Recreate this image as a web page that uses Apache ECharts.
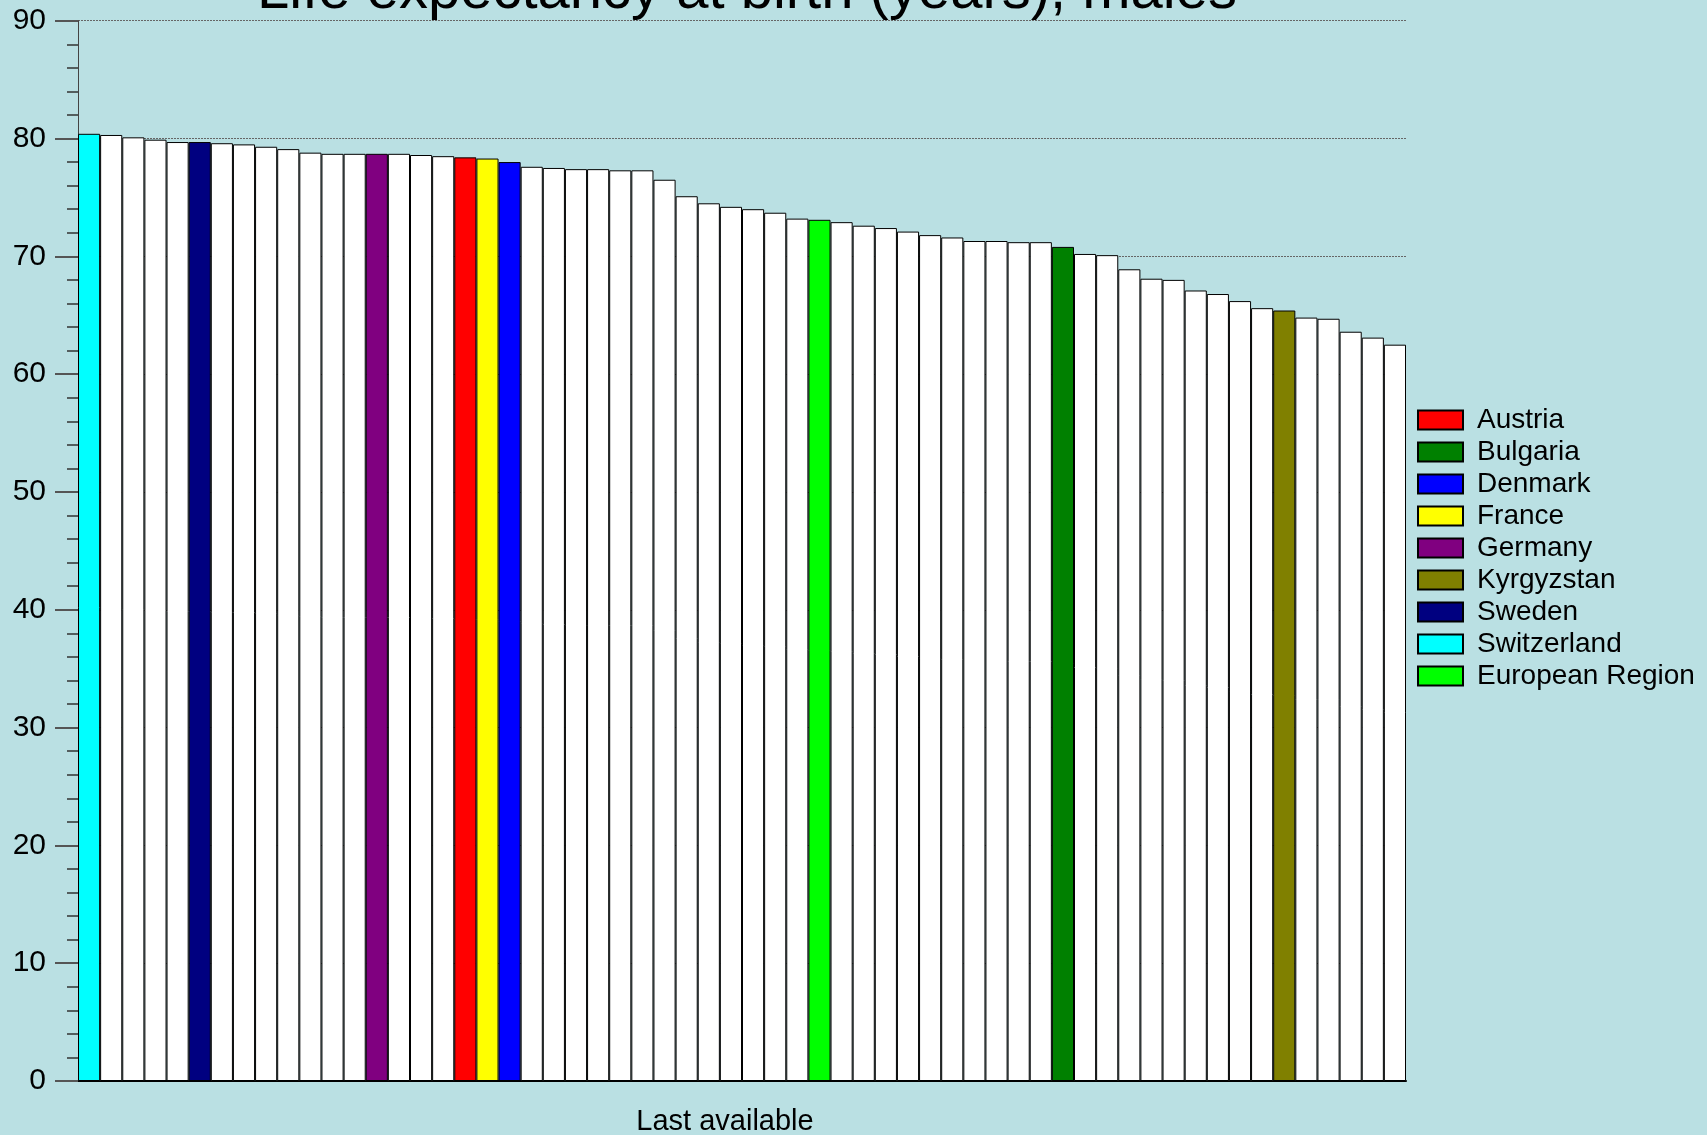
<!DOCTYPE html>
<html>
<head>
<meta charset="utf-8">
<script src="https://cdn.jsdelivr.net/npm/echarts@6/dist/echarts.min.js"></script>
<style>
html,body{margin:0;padding:0;background:#bae0e3;overflow:hidden;}
#chart{width:1707px;height:1135px;}
</style>
</head>
<body>
<div id="chart"></div>
<script>
// Life expectancy values, sorted descending (60 bars)
const values = [
  80.4, 80.3, 80.1, 79.9, 79.7, 79.7, 79.6, 79.5, 79.3, 79.1,
  78.8, 78.7, 78.7, 78.7, 78.7, 78.6, 78.5, 78.4, 78.3, 78.0,
  77.6, 77.5, 77.4, 77.4, 77.3, 77.3, 76.5, 75.1, 74.5, 74.2,
  74.0, 73.7, 73.2, 73.1, 72.9, 72.6, 72.4, 72.1, 71.8, 71.6,
  71.3, 71.3, 71.2, 71.2, 70.8, 70.2, 70.1, 68.9, 68.1, 68.0,
  67.1, 66.8, 66.2, 65.6, 65.4, 64.8, 64.7, 63.6, 63.1, 62.5
];
const categories = values.map((v, i) => 'c' + (i + 1));
const highlightNames = ['Austria', 'Bulgaria', 'Denmark', 'France', 'Germany', 'Kyrgyzstan', 'Sweden', 'Switzerland', 'European Region'];
const highlightIndex = [17, 44, 19, 18, 13, 54, 5, 0, 33];
const highlightColors = ['#ff0000', '#008000', '#0000ff', '#ffff00', '#800080', '#808000', '#000080', '#00ffff', '#00ff00'];
const yTicks = [0, 10, 20, 30, 40, 50, 60, 70, 80, 90];
const titleText = 'Life expectancy at birth (years), males';
const xAxisTitle = 'Last available';

const FONT = 'Liberation Sans, Arial, sans-serif';
const series = [];
const others = values.map((v, i) => highlightIndex.includes(i) ? '-' : v);
series.push({
  name: 'Other', type: 'bar', stack: 'a', data: others, barCategoryGap: 0,
  itemStyle: { color: '#ffffff', borderColor: '#000000', borderWidth: 1 },
  emphasis: { disabled: true }
});
highlightNames.forEach((n, k) => {
  const d = values.map((v, i) => i === highlightIndex[k] ? v : '-');
  series.push({
    name: n, type: 'bar', stack: 'a', data: d, barCategoryGap: 0,
    itemStyle: { color: highlightColors[k], borderColor: '#000000', borderWidth: 1 },
    emphasis: { disabled: true }
  });
});

const chart = echarts.init(document.getElementById('chart'), null, { renderer: 'canvas' });
chart.setOption({
  backgroundColor: '#bae0e3',
  animation: false,
  title: {
    text: titleText, left: 742, top: -42, textAlign: 'center',
    textStyle: { fontFamily: FONT, fontSize: 58, fontWeight: 'normal', color: '#000' }
  },
  legend: {
    data: highlightNames, orient: 'vertical', left: 1417, top: 406, padding: 0,
    icon: 'rect', itemWidth: 45, itemHeight: 19, itemGap: 4,
    textStyle: { fontFamily: FONT, fontSize: 28, color: '#000', padding: [0, 0, 0, 9] },
    selectedMode: false
  },
  grid: { left: 78, right: 301, top: 20.7, bottom: 54, containLabel: false, outerBoundsMode: 'none' },
  xAxis: {
    type: 'category', data: categories,
    axisLine: { show: true, lineStyle: { color: '#000', width: 2 } },
    axisTick: { show: false }, axisLabel: { show: false },
    name: xAxisTitle, nameLocation: 'middle', nameGap: 26,
    nameTextStyle: { fontFamily: FONT, fontSize: 29, color: '#000', padding: [0, 34, 0, 0] }
  },
  yAxis: {
    type: 'value', min: 0, max: 90, interval: 10,
    axisLine: { show: true, lineStyle: { color: '#444', width: 1 } },
    axisTick: { show: true, length: 23, lineStyle: { color: '#555', width: 2 } },
    minorTick: { show: true, splitNumber: 5, length: 11, lineStyle: { color: '#333', width: 1.5 } },
    axisLabel: { fontFamily: FONT, fontSize: 30, color: '#000', margin: 32,
      formatter: v => yTicks.includes(v) ? String(v) : '' },
    splitLine: { show: true, lineStyle: { color: '#666', type: [2, 1], width: 1 } }
  },
  series: series
});
</script>
</body>
</html>
